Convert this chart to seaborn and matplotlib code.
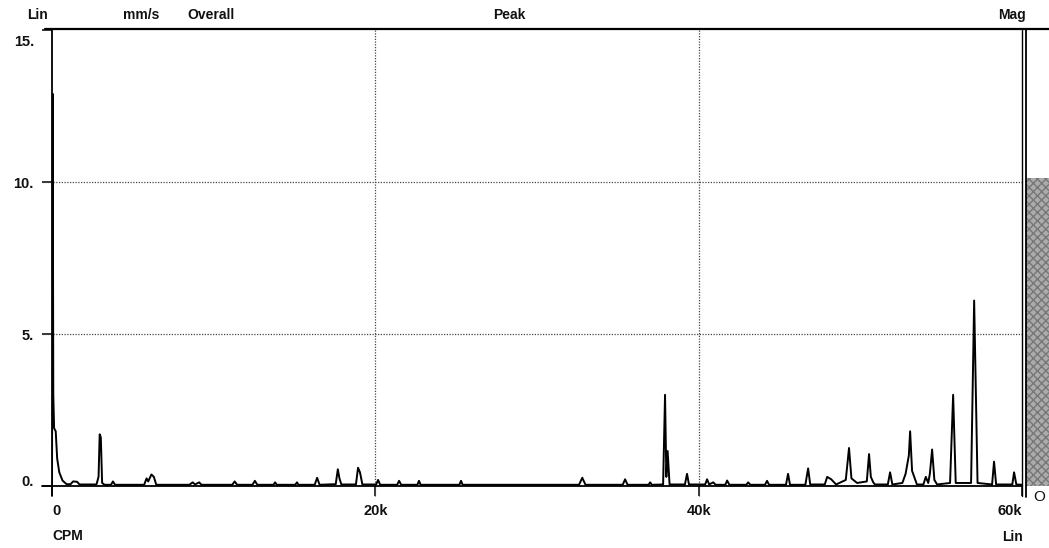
import numpy as np
import pandas as pd
import matplotlib
matplotlib.use("Agg")
import matplotlib.pyplot as plt
from matplotlib.lines import Line2D
from matplotlib.transforms import ScaledTranslation
import seaborn as sns

# ---- data ----
spec_cpm = [0, 40, 80, 130, 230, 320, 450, 650, 900, 1150, 1300, 1550, 1700,
            2750, 2880, 2950, 3020, 3100, 3250, 3650, 3770, 3900,
            5700, 5850, 5950, 6150, 6300, 6450, 8500, 8700, 8850, 9100, 9250,
            11150, 11300, 11450, 12400, 12550, 12700, 13700, 13800, 13900,
            15050, 15150, 15250, 16250, 16400, 16550, 17550, 17680, 17780, 17900,
            18800, 18930, 19050, 19200, 20050, 20170, 20300, 21350, 21470, 21600,
            22600, 22700, 22800, 25200, 25300, 25400, 32600, 32800, 33000,
            35300, 35450, 35600, 36900, 37000, 37100, 37800, 37920, 38000, 38080, 38200,
            39150, 39280, 39400, 40400, 40520, 40650, 40900, 41050, 41650, 41760, 41900,
            42950, 43060, 43200, 44100, 44230, 44350, 45400, 45530, 45650,
            46600, 46770, 46900, 47800, 47950, 48200, 48500, 49100, 49300, 49450, 49800,
            50400, 50540, 50650, 50800, 50900, 51700, 51840, 51980,
            52600, 52800, 53000, 53080, 53200, 53500, 53900, 54050, 54200, 54300, 54440, 54580, 54750,
            55550, 55740, 55900, 56850, 57040, 57150, 57250, 58150, 58270, 58400,
            59400, 59510, 59650, 60000]
spec_amp = [0.0, 12.9, 3.0, 1.9, 1.8, 0.9, 0.45, 0.18, 0.06, 0.06, 0.15, 0.14, 0.05,
            0.05, 0.3, 1.7, 1.6, 0.1, 0.04, 0.04, 0.15, 0.04,
            0.04, 0.25, 0.15, 0.38, 0.3, 0.04, 0.04, 0.12, 0.05, 0.12, 0.04,
            0.04, 0.15, 0.04, 0.04, 0.17, 0.04, 0.04, 0.12, 0.04,
            0.04, 0.12, 0.04, 0.04, 0.27, 0.04, 0.06, 0.55, 0.25, 0.05,
            0.05, 0.6, 0.45, 0.05, 0.05, 0.2, 0.04, 0.04, 0.17, 0.04,
            0.04, 0.17, 0.04, 0.04, 0.17, 0.04, 0.04, 0.27, 0.04,
            0.04, 0.22, 0.04, 0.04, 0.12, 0.04, 0.05, 3.0, 0.3, 1.15, 0.05,
            0.05, 0.4, 0.05, 0.05, 0.22, 0.05, 0.12, 0.04, 0.04, 0.18, 0.04,
            0.04, 0.12, 0.04, 0.04, 0.17, 0.04, 0.04, 0.4, 0.04,
            0.04, 0.58, 0.05, 0.05, 0.3, 0.22, 0.05, 0.2, 1.25, 0.25, 0.1,
            0.15, 1.05, 0.3, 0.12, 0.05, 0.05, 0.45, 0.05,
            0.1, 0.4, 1.0, 1.8, 0.5, 0.05, 0.05, 0.3, 0.1, 0.4, 1.2, 0.2, 0.05,
            0.1, 3.0, 0.1, 0.1, 6.1, 3.0, 0.1, 0.05, 0.8, 0.05,
            0.05, 0.45, 0.05, 0.04]
overall_value = [10.13]
y_ticks = [0, 5, 10, 15]
y_tick_labels = ["0.", "5.", "10.", "15."]
x_ticks = [0, 20000, 40000, 60000]
x_tick_labels = ["0", "20k", "40k", "60k"]
grid_y = [5, 10]
grid_x = [20000, 40000]

# ---- style ----
sns.set_theme(style="white")
plt.rcParams["font.family"] = ["Liberation Sans", "DejaVu Sans"]

W, H = 1049, 548
fig = plt.figure(figsize=(W / 100, H / 100), dpi=100)
fig.patch.set_facecolor("white")

def fx(px):
    return px / W

def fy(py):
    return 1 - py / H

ax = fig.add_axes([fx(52), fy(486), 970 / W, 456 / H])
ax.set_xlim(0, 60000)
ax.set_ylim(0, 15)
for s in ax.spines.values():
    s.set_visible(False)
ax.set_facecolor("white")

df = pd.DataFrame({"cpm": spec_cpm, "amp": spec_amp})
sns.lineplot(data=df, x="cpm", y="amp", ax=ax, color="black", linewidth=1.4,
             sort=False, estimator=None, zorder=5)
ax.set_xlabel("")
ax.set_ylabel("")

# grid lines
for gy in grid_y:
    ax.plot([-600, 60000], [gy, gy], color="#444444", linewidth=0.9,
            linestyle=(0, (1, 1.2)), clip_on=False, zorder=2)
for gx in grid_x:
    ax.plot([gx, gx], [-0.33, 15], color="#444444", linewidth=0.9,
            linestyle=(0, (1, 1.2)), clip_on=False, zorder=2)

# axes lines
ax.plot([0, 0], [-0.33, 15], color="black", linewidth=1.3, clip_on=False, zorder=6)
ax.plot([-600, 60000], [0, 0], color="black", linewidth=1.3, clip_on=False, zorder=4)
ax.plot([60000, 60000], [-0.33, 15], color="black", linewidth=1.0, clip_on=False, zorder=4)
fig.add_artist(Line2D([fx(45), 1.0], [fy(28.5), fy(28.5)], color="black", linewidth=1.6))

# ticks
ax.set_yticks(y_ticks)
ax.set_yticklabels(y_tick_labels)
ax.set_xticks(x_ticks)
ax.set_xticklabels(x_tick_labels)
ax.tick_params(axis="y", direction="out", length=7, width=1.1, color="black",
               pad=6, labelsize=10.5, left=True)
ax.tick_params(axis="x", direction="out", length=7, width=1.1, color="black",
               pad=6, labelsize=10.5, bottom=True)
for lab in ax.get_yticklabels() + ax.get_xticklabels():
    lab.set_fontweight("bold")
    lab.set_color("#111111")
ylabs = ax.get_yticklabels()
ylabs[0].set_transform(ylabs[0].get_transform() + ScaledTranslation(0, 6 / 100, fig.dpi_scale_trans))
ylabs[-1].set_transform(ylabs[-1].get_transform() + ScaledTranslation(0, -10 / 100, fig.dpi_scale_trans))
xlabs = ax.get_xticklabels()
xlabs[0].set_horizontalalignment("left")
xlabs[-1].set_horizontalalignment("right")

# right overall bar
ax2 = fig.add_axes([fx(1026), fy(486), 30 / W, 456 / H])
ax2.set_xlim(-0.5, 0.5)
ax2.set_ylim(0, 15)
ax2.bar([0], overall_value, width=1.0, color="#ababab", edgecolor="#777777",
        hatch="xxxx", linewidth=0)
for s in ax2.spines.values():
    s.set_visible(False)
ax2.plot([-0.5, -0.5], [-0.35, 15], color="black", linewidth=1.3, clip_on=False)
ax2.set_xticks([])
ax2.set_yticks([])

# header texts
kw = dict(fontsize=10, fontweight="bold", color="#111111", va="center")
fig.text(fx(27), fy(15), "Lin", ha="left", **kw)
fig.text(fx(123), fy(15), "mm/s", ha="left", **kw)
fig.text(fx(187), fy(15), "Overall", ha="left", **kw)
fig.text(fx(493), fy(15), "Peak", ha="left", **kw)
fig.text(fx(1026), fy(15), "Mag", ha="right", **kw)
fig.text(fx(52), fy(536), "CPM", ha="left", **kw)
fig.text(fx(1023), fy(537), "Lin", ha="right", **kw)
fig.text(fx(1039), fy(497), "O", ha="center", fontsize=11, color="#111111", va="center")

fig.savefig("out.png", dpi=100, facecolor="white")
